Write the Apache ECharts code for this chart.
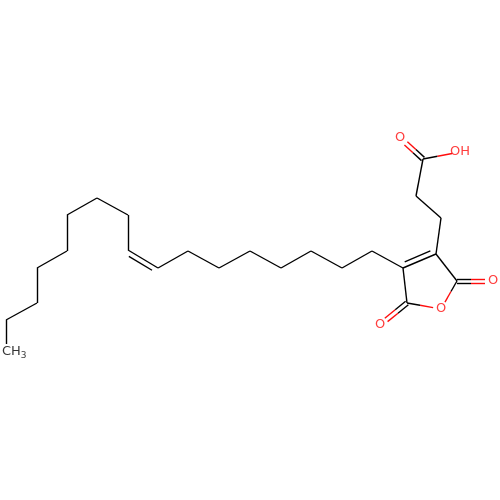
<!DOCTYPE html>
<html><head><meta charset="utf-8">
<script src="https://cdn.jsdelivr.net/npm/echarts@6/dist/echarts.min.js"></script>
<style>html,body{margin:0;background:#fff}#c{width:500px;height:500px}</style>
</head><body><div id="c"></div>
<script>
// atoms: [label, x, y]  (label '' = carbon vertex)
var atoms = [
    ['CH3', 6, 352], ['', 6, 320], ['', 37, 303], ['', 37, 268], ['', 67, 251],
    ['', 67, 215], ['', 97, 198], ['', 128, 215], ['', 128, 250], ['', 158, 268],
    ['', 188, 251], ['', 219, 268], ['', 250, 251], ['', 281, 268], ['', 311, 251],
    ['', 342, 268], ['', 372, 251], ['', 403, 268], ['', 436, 254], ['', 457, 281],
    ['O', 441, 309], ['', 407, 303], ['O', 493, 281], ['O', 380, 325],
    ['', 441, 218], ['', 416, 196], ['', 423, 159], ['O', 400, 138], ['OH', 460, 152]
];
// bonds: [from, to, order, side]  side = which way the second line goes
var bonds = [
    [0,1,1],[1,2,1],[2,3,1],[3,4,1],[4,5,1],[5,6,1],[6,7,1],[7,8,1],[8,9,2,1],
    [9,10,1],[10,11,1],[11,12,1],[12,13,1],[13,14,1],[14,15,1],[15,16,1],[16,17,1],
    [17,18,2,-1],[18,19,1],[19,20,1],[20,21,1],[21,17,1],
    [19,22,2,0],[21,23,2,0],[18,24,1],[24,25,1],[25,26,1],[26,27,2,0],[26,28,1]
];

var colorOf = function (a) { return a[0].charAt(0) === 'O' ? '#ff0d0d' : '#000'; };
var segs = [];
var pushSeg = function (p, q, ca, cb) {
    var mx = (p[0] + q[0]) / 2, my = (p[1] + q[1]) / 2;
    if (ca === cb) {
        segs.push({coords: [p, q], lineStyle: {color: ca}});
    } else {
        segs.push({coords: [p, [mx, my]], lineStyle: {color: ca}});
        segs.push({coords: [[mx, my], q], lineStyle: {color: cb}});
    }
};
bonds.forEach(function (b) {
    var A = atoms[b[0]], B = atoms[b[1]];
    var dx = B[1] - A[1], dy = B[2] - A[2], len = Math.sqrt(dx * dx + dy * dy);
    var ux = dx / len, uy = dy / len;
    var sa = A[0] ? 8 : 0, sb = B[0] ? 8 : 0;
    var p = [A[1] + ux * sa, A[2] + uy * sa], q = [B[1] - ux * sb, B[2] - uy * sb];
    var ca = colorOf(A), cb = colorOf(B);
    var nx = -uy, ny = ux;
    if (b[2] === 1) {
        pushSeg(p, q, ca, cb);
    } else if (b[3] === 0) {
        var o = 2.2;
        pushSeg([p[0] + nx * o, p[1] + ny * o], [q[0] + nx * o, q[1] + ny * o], ca, cb);
        pushSeg([p[0] - nx * o, p[1] - ny * o], [q[0] - nx * o, q[1] - ny * o], ca, cb);
    } else {
        var s = b[3] * 5, t = 4;
        pushSeg(p, q, ca, cb);
        pushSeg([p[0] + nx * s + ux * t, p[1] + ny * s + uy * t],
                [q[0] + nx * s - ux * t, q[1] + ny * s - uy * t], ca, cb);
    }
});

var labels = atoms.filter(function (a) { return a[0]; }).map(function (a) {
    var d = {value: [a[1], a[2]], name: a[0], label: {color: colorOf(a)}};
    if (a[0] === 'CH3') { d.label.align = 'left'; d.label.offset = [-4, 0]; }
    return d;
});

var chart = echarts.init(document.getElementById('c'));
chart.setOption({
    animation: false,
    grid: {left: 0, right: 0, top: 0, bottom: 0},
    xAxis: {type: 'value', min: 0, max: 500, show: false},
    yAxis: {type: 'value', min: 0, max: 500, inverse: true, show: false},
    series: [{
        type: 'lines', coordinateSystem: 'cartesian2d', polyline: false,
        lineStyle: {width: 1.4, opacity: 1}, data: segs
    }, {
        type: 'scatter', symbolSize: 0, data: labels,
        label: {
            show: true, position: 'inside', fontFamily: 'DejaVu Sans', fontSize: 13,
            formatter: function (p) { return p.name === 'CH3' ? 'CH{s|3}' : p.name; },
            rich: {s: {fontSize: 9, padding: [8, 0, 0, 0], fontFamily: 'DejaVu Sans'}}
        }
    }]
});
</script></body></html>
